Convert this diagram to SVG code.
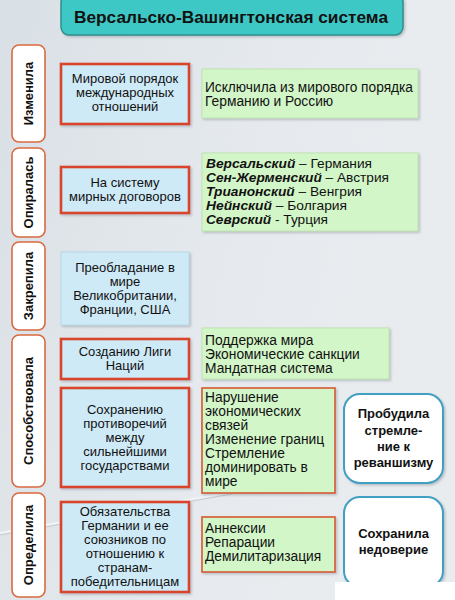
<svg xmlns="http://www.w3.org/2000/svg" width="455" height="600" viewBox="0 0 455 600">
<defs>
<linearGradient id="bg" x1="0" y1="0" x2="1" y2="0.3">
<stop offset="0" stop-color="#d9e0e5"/>
<stop offset="0.6" stop-color="#e6eaee"/>
<stop offset="1" stop-color="#e9ecef"/>
</linearGradient>
<filter id="sh" x="-10%" y="-10%" width="125%" height="130%">
<feDropShadow dx="1.5" dy="1.5" stdDeviation="1" flood-color="#7a8890" flood-opacity="0.45"/>
</filter>
<style>
text{font-family:"Liberation Sans",Arial,sans-serif;font-size:13px;fill:#111;}
.c{text-anchor:middle;}
.b{font-weight:bold;}
.bi{font-weight:bold;font-style:italic;}
.g{font-size:13.8px;}
.lab{fill:#fff;stroke:#d9693f;stroke-width:1.6;}
.blue{fill:#cfeaf7;stroke:#d8452a;stroke-width:2.6;filter:url(#sh);}
.blue2{fill:#cfeaf7;stroke:#b9d8e6;stroke-width:1;filter:url(#sh);}
.green{fill:#d3f6c8;stroke:#bfe4b0;stroke-width:1;filter:url(#sh);}
.green2{fill:#d3f6c8;stroke:#d8592f;stroke-width:1.6;filter:url(#sh);}
.res{fill:#fff;stroke:#3f9fc3;stroke-width:2;filter:url(#sh);}
.vt{font-weight:bold;font-size:13px;text-anchor:middle;}
</style>
</defs>
<rect width="455" height="600" fill="url(#bg)"/>
<path d="M0,533 L232,492" stroke="#f1f4f6" stroke-width="2" fill="none"/>
<path d="M0,535 L232,494" stroke="#c3ccd2" stroke-width="1" fill="none"/>

<g id="title">
<rect x="61" y="-6" width="342" height="41" rx="8" fill="#3dc8c5" stroke="#2b8f8d" stroke-width="1.5" filter="url(#sh)"/>
<text x="74" y="23" class="b" style="font-size:17px" textLength="314" lengthAdjust="spacingAndGlyphs">Версальско-Вашингтонская система</text>
</g>

<g id="lab-izmenila">
<rect x="12" y="45" width="33" height="97" rx="7" class="lab"/>
<text class="vt" transform="translate(33,93.5) rotate(-90)">Изменила</text>
</g>
<g id="lab-opiralas">
<rect x="12" y="148" width="33" height="89" rx="7" class="lab"/>
<text class="vt" transform="translate(33,192.5) rotate(-90)">Опиралась</text>
</g>
<g id="lab-zakrepila">
<rect x="12" y="242" width="33" height="88" rx="7" class="lab"/>
<text class="vt" transform="translate(33,286) rotate(-90)">Закрепила</text>
</g>
<g id="lab-sposobstvovala">
<rect x="12" y="335" width="33" height="152" rx="7" class="lab"/>
<text class="vt" transform="translate(33,411) rotate(-90)">Способствовала</text>
</g>
<g id="lab-opredelila">
<rect x="12" y="493" width="33" height="104" rx="7" class="lab"/>
<text class="vt" transform="translate(33,545) rotate(-90)">Определила</text>
</g>

<g id="mirovoy">
<rect x="61" y="64" width="128" height="60" class="blue"/>
<text class="c" x="125" y="83">Мировой порядок</text>
<text class="c" x="125" y="97">международных</text>
<text class="c" x="125" y="111">отношений</text>
</g>
<g id="isklyuchila">
<rect x="202" y="69" width="216" height="49" class="green"/>
<text class="g" x="205" y="91.5" textLength="208" lengthAdjust="spacingAndGlyphs">Исключила из мирового порядка</text>
<text class="g" x="205" y="105.5">Германию и Россию</text>
</g>

<g id="na-sistemu">
<rect x="61" y="167" width="128" height="46" class="blue"/>
<text class="c" x="125" y="187">На систему</text>
<text class="c" x="125" y="201">мирных договоров</text>
</g>
<g id="dogovory">
<rect x="202" y="153" width="216" height="78" class="green"/>
<text x="206" y="167.5" textLength="166" lengthAdjust="spacingAndGlyphs"><tspan class="bi">Версальский</tspan> – Германия</text>
<text x="206" y="181.5" textLength="183" lengthAdjust="spacingAndGlyphs"><tspan class="bi">Сен-Жерменский</tspan> – Австрия</text>
<text x="206" y="196" textLength="156" lengthAdjust="spacingAndGlyphs"><tspan class="bi">Трианонский</tspan> – Венгрия</text>
<text x="206" y="210" textLength="141" lengthAdjust="spacingAndGlyphs"><tspan class="bi">Нейнский</tspan> – Болгария</text>
<text x="206" y="224" textLength="122" lengthAdjust="spacingAndGlyphs"><tspan class="bi">Севрский</tspan> - Турция</text>
</g>

<g id="preobladanie">
<rect x="61" y="252" width="128" height="73" class="blue2"/>
<text class="c" x="125" y="272">Преобладание в</text>
<text class="c" x="125" y="286">мире</text>
<text class="c" x="125" y="300">Великобритании,</text>
<text class="c" x="125" y="314">Франции, США</text>
</g>

<g id="liga">
<rect x="61" y="339" width="128" height="40" class="blue"/>
<text class="c" x="125" y="356">Созданию Лиги</text>
<text class="c" x="125" y="370">Наций</text>
</g>
<g id="podderzhka">
<rect x="202" y="328" width="187" height="51" class="green"/>
<text class="g" x="205" y="344.5">Поддержка мира</text>
<text class="g" x="205" y="358.5">Экономические санкции</text>
<text class="g" x="205" y="372.5">Мандатная система</text>
</g>

<g id="protivorechiya">
<rect x="61" y="388" width="128" height="99" class="blue"/>
<text class="c" x="125" y="414">Сохранению</text>
<text class="c" x="125" y="428">противоречий</text>
<text class="c" x="125" y="442">между</text>
<text class="c" x="125" y="456">сильнейшими</text>
<text class="c" x="125" y="470">государствами</text>
</g>
<g id="narushenie">
<rect x="202" y="388" width="133" height="105" class="green2"/>
<text class="g" x="205" y="401.5">Нарушение</text>
<text class="g" x="205" y="415.5">экономических</text>
<text class="g" x="205" y="429.5">связей</text>
<text class="g" x="205" y="443.5">Изменение границ</text>
<text class="g" x="205" y="457.5">Стремление</text>
<text class="g" x="205" y="471.5">доминировать в</text>
<text class="g" x="205" y="486">мире</text>
</g>
<g id="probudila">
<rect x="344" y="394" width="99" height="89" rx="16" class="res"/>
<text class="c b" x="393.5" y="418">Пробудила</text>
<text class="c b" x="393.5" y="434.5">стремле-</text>
<text class="c b" x="393.5" y="451">ние к</text>
<text class="c b" x="393.5" y="467">реваншизму</text>
</g>

<g id="obyazatelstva">
<rect x="61" y="502" width="128" height="90" class="blue"/>
<text class="c" x="125" y="516">Обязательства</text>
<text class="c" x="125" y="530">Германии и ее</text>
<text class="c" x="125" y="544">союзников по</text>
<text class="c" x="125" y="558">отношению к</text>
<text class="c" x="125" y="572">странам-</text>
<text class="c" x="125" y="586">победительницам</text>
</g>
<g id="anneksii">
<rect x="202" y="517" width="133" height="55" class="green2"/>
<text class="g" x="205" y="533">Аннексии</text>
<text class="g" x="205" y="547">Репарации</text>
<text class="g" x="205" y="561">Демилитаризация</text>
</g>
<g id="sokhranila">
<rect x="344" y="497" width="99" height="90" rx="16" class="res"/>
<text class="c b" x="393.5" y="538">Сохранила</text>
<text class="c b" x="393.5" y="554">недоверие</text>
</g>
<rect x="335" y="582" width="120" height="18" fill="#fff"/>
</svg>
